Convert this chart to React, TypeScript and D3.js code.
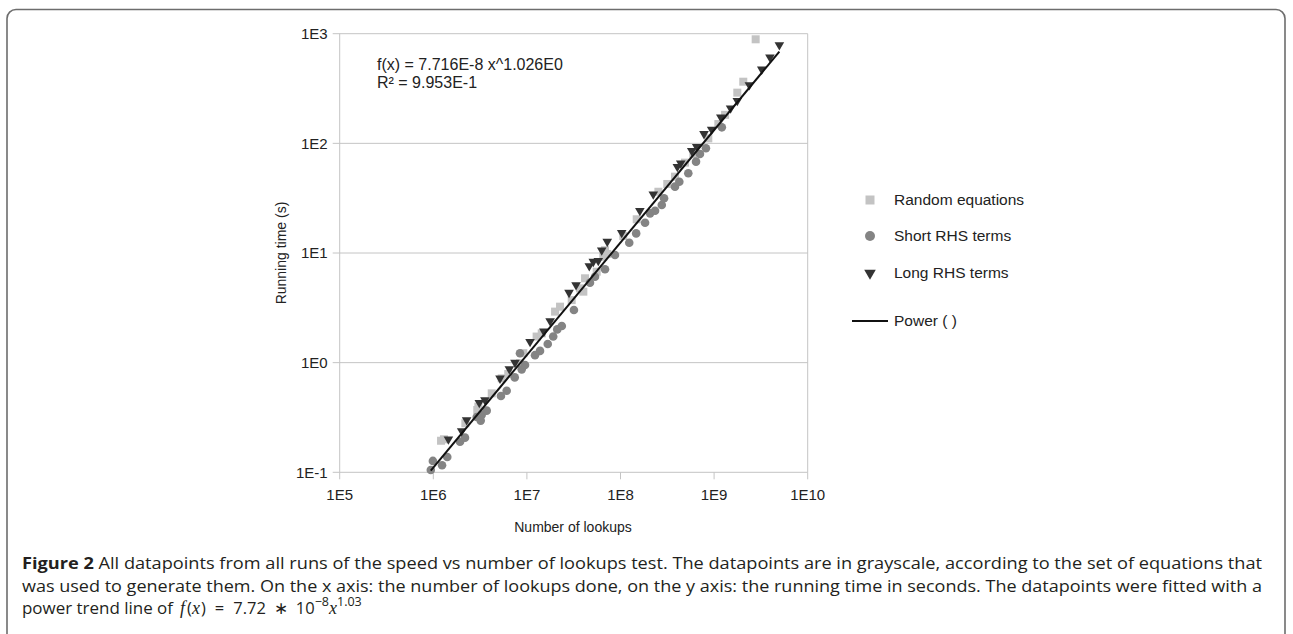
import React, { useRef, useEffect } from "react";
import * as d3 from "d3";

type Pt = [number, number]; // [number of lookups, running time in s]

const randomEquations: Pt[] = [
    [1.21e6, 0.194], [1.3e6, 0.2], [2.2e6, 0.28], [2.95e6, 0.37], [3.03e6, 0.397],
    [4.21e6, 0.525], [5.38e6, 0.719], [6.32e6, 0.788], [8.43e6, 0.986], [9.16e6, 1.22],
    [1.27e7, 1.73], [1.44e7, 1.85], [2.0e7, 2.92], [2.26e7, 3.24], [3.01e7, 3.72],
    [3.69e7, 4.76], [4.01e7, 4.44], [4.18e7, 5.88], [5.57e7, 6.75], [6.55e7, 9.25],
    [7.22e7, 9.8], [6.83e7, 10.6], [1.07e8, 14.3], [1.49e8, 20.3], [2.54e8, 36.2],
    [3.16e8, 42.6], [3.82e8, 49.7], [4.89e8, 66.7], [6.0e8, 80], [8.67e8, 111],
    [1.11e9, 150], [1.31e9, 182], [1.77e9, 290], [2.05e9, 365], [2.78e9, 889],
];

const shortRhsTerms: Pt[] = [
    [9.4e5, 0.105], [9.9e5, 0.127], [1.24e6, 0.116], [1.41e6, 0.138], [1.93e6, 0.19],
    [2.18e6, 0.207], [2.91e6, 0.319], [3.21e6, 0.296], [3.29e6, 0.334], [3.72e6, 0.365],
    [5.28e6, 0.497], [6.08e6, 0.555], [7.41e6, 0.734], [8.8e6, 0.869], [9.55e6, 0.952],
    [8.43e6, 1.22], [1.22e7, 1.17], [1.38e7, 1.28], [1.67e7, 1.48], [1.91e7, 1.73],
    [2.11e7, 2.01], [2.36e7, 2.16], [3.18e7, 3.02], [4.72e7, 5.36], [5.34e7, 6.08],
    [6.83e7, 7.1], [8.73e7, 9.6], [1.24e8, 12.4], [1.47e8, 15.1], [1.83e8, 18.9],
    [2.07e8, 23.0], [2.34e8, 24.3], [2.76e8, 27.4], [2.92e8, 31.6], [3.82e8, 40.3],
    [4.25e8, 44.7], [5.3e8, 53.3], [6.41e8, 68.1], [7.06e8, 80], [8.18e8, 90.2],
    [1.21e9, 140],
];

const longRhsTerms: Pt[] = [
    [1.45e6, 0.2], [2.01e6, 0.238], [2.27e6, 0.3], [3.1e6, 0.431], [3.56e6, 0.456],
    [5.16e6, 0.719], [6.49e6, 0.875], [7.46e6, 1.0], [1.08e7, 1.55], [1.52e7, 1.93],
    [1.77e7, 2.4], [2.82e7, 4.35], [3.35e7, 5.11], [4.64e7, 7.6], [5.12e7, 8.34],
    [5.79e7, 8.51], [6.3e7, 10.6], [7.22e7, 12.7], [1.03e8, 15.3], [1.61e8, 24.3],
    [2.24e8, 34.3], [4.05e8, 61.2], [4.4e8, 65.8], [5.77e8, 85.7], [6.52e8, 93.1],
    [7.8e8, 122], [9.42e8, 134], [1.18e9, 173], [1.5e9, 209], [1.77e9, 245],
    [2.38e9, 340], [3.23e9, 473], [3.95e9, 610], [4.98e9, 789],
];

const xTicks = [1e5, 1e6, 1e7, 1e8, 1e9, 1e10];
const xTickLabels = ["1E5", "1E6", "1E7", "1E8", "1E9", "1E10"];
const yTicks = [0.1, 1, 10, 100, 1000];
const yTickLabels = ["1E-1", "1E0", "1E1", "1E2", "1E3"];

const legendLabels = ["Random equations", "Short RHS terms", "Long RHS terms", "Power ( )"];

// power trend line f(x) = a * x^b
const fitA = 7.716e-8;
const fitB = 1.026;

const CHART_FONT = "'Liberation Sans', Arial, sans-serif";
const CAPTION_FONT = "'Open Sans', 'Noto Sans', sans-serif";
const MATH_FONT = "'Liberation Serif', serif";

const App: React.FC = () => {
    const ref = useRef<SVGSVGElement>(null);

    useEffect(() => {
        if (!ref.current) return;
        const svg = d3.select(ref.current);
        svg.selectAll("*").remove();

        const x = d3.scaleLog().domain([1e5, 1e10]).range([339.7, 807.7]);
        const y = d3.scaleLog().domain([0.1, 1000]).range([472.3, 33.7]);

        // outer figure frame
        svg.append("rect")
            .attr("x", 7).attr("y", 9.5)
            .attr("width", 1278).attr("height", 700)
            .attr("rx", 9)
            .attr("fill", "none")
            .attr("stroke", "#6d6d6d")
            .attr("stroke-width", 1.6);

        const grid = "#c4c4c4";

        // horizontal gridlines
        svg.append("g").selectAll("line")
            .data(yTicks)
            .enter().append("line")
            .attr("x1", x(1e5) - 7).attr("x2", x(1e10))
            .attr("y1", d => y(d)).attr("y2", d => y(d))
            .attr("stroke", grid).attr("stroke-width", 1);

        // axis lines / frame
        svg.append("line")
            .attr("x1", x(1e5)).attr("x2", x(1e5))
            .attr("y1", y(1000)).attr("y2", y(0.1))
            .attr("stroke", grid);
        svg.append("line")
            .attr("x1", x(1e10)).attr("x2", x(1e10))
            .attr("y1", y(1000)).attr("y2", y(0.1))
            .attr("stroke", grid);

        // x ticks
        svg.append("g").selectAll("line")
            .data(xTicks)
            .enter().append("line")
            .attr("x1", d => x(d)).attr("x2", d => x(d))
            .attr("y1", y(0.1)).attr("y2", y(0.1) + 7)
            .attr("stroke", grid);

        svg.append("g").selectAll("text")
            .data(xTicks)
            .enter().append("text")
            .attr("x", d => x(d))
            .attr("y", y(0.1) + 28)
            .attr("text-anchor", "middle")
            .style("font-family", CHART_FONT)
            .style("font-size", "15px")
            .attr("fill", "#222")
            .text((d, i) => xTickLabels[i]);

        svg.append("g").selectAll("text")
            .data(yTicks)
            .enter().append("text")
            .attr("x", x(1e5) - 12)
            .attr("y", d => y(d) + 5.3)
            .attr("text-anchor", "end")
            .style("font-family", CHART_FONT)
            .style("font-size", "15px")
            .attr("fill", "#222")
            .text((d, i) => yTickLabels[i]);

        // axis titles
        svg.append("text")
            .attr("x", 573).attr("y", 532)
            .attr("text-anchor", "middle")
            .style("font-family", CHART_FONT)
            .style("font-size", "14px")
            .attr("fill", "#222")
            .text("Number of lookups");

        svg.append("text")
            .attr("transform", "translate(286,253) rotate(-90)")
            .attr("text-anchor", "middle")
            .style("font-family", CHART_FONT)
            .style("font-size", "14px")
            .attr("fill", "#222")
            .text("Running time (s)");

        // series
        const sq = 8;
        svg.append("g").selectAll("rect")
            .data(randomEquations)
            .enter().append("rect")
            .attr("x", d => x(d[0]) - sq / 2)
            .attr("y", d => y(d[1]) - sq / 2)
            .attr("width", sq).attr("height", sq)
            .attr("fill", "#c3c3c3");

        svg.append("g").selectAll("circle")
            .data(shortRhsTerms)
            .enter().append("circle")
            .attr("cx", d => x(d[0]))
            .attr("cy", d => y(d[1]))
            .attr("r", 4.3)
            .attr("fill", "#848484");

        const tri = d3.symbol(d3.symbolTriangle, 40);
        svg.append("g").selectAll("path")
            .data(longRhsTerms)
            .enter().append("path")
            .attr("d", tri)
            .attr("transform", d => `translate(${x(d[0])},${y(d[1])}) rotate(180)`)
            .attr("fill", "#333");

        // trend line
        const all = [...randomEquations, ...shortRhsTerms, ...longRhsTerms];
        const [xMin, xMax] = d3.extent(all, d => d[0]) as [number, number];
        const line = d3.line<number>()
            .x(d => x(d))
            .y(d => y(fitA * Math.pow(d, fitB)));
        svg.append("path")
            .attr("d", line([xMin, xMax]))
            .attr("fill", "none")
            .attr("stroke", "#111")
            .attr("stroke-width", 2);

        // equation annotation
        const eq = svg.append("text")
            .style("font-family", CHART_FONT)
            .style("font-size", "16px")
            .attr("fill", "#222");
        eq.append("tspan").attr("x", 377).attr("y", 70)
            .text("f(x) = 7.716E-8 x^1.026E0");
        eq.append("tspan").attr("x", 377).attr("y", 88)
            .text("R² = 9.953E-1");

        // legend
        const lx = 870;
        const rows = [200, 236, 273, 321];
        svg.append("rect")
            .attr("x", lx - 4.5).attr("y", rows[0] - 4.5)
            .attr("width", 9).attr("height", 9)
            .attr("fill", "#c3c3c3");
        svg.append("circle")
            .attr("cx", lx).attr("cy", rows[1]).attr("r", 5)
            .attr("fill", "#848484");
        svg.append("path")
            .attr("d", d3.symbol(d3.symbolTriangle, 58)())
            .attr("transform", `translate(${lx},${rows[2]}) rotate(180)`)
            .attr("fill", "#333");
        svg.append("line")
            .attr("x1", 852).attr("x2", 888)
            .attr("y1", rows[3]).attr("y2", rows[3])
            .attr("stroke", "#111").attr("stroke-width", 2);

        svg.append("g").selectAll("text")
            .data(legendLabels)
            .enter().append("text")
            .attr("x", 894)
            .attr("y", (d, i) => rows[i] + 5.4)
            .style("font-family", CHART_FONT)
            .style("font-size", "15.5px")
            .attr("fill", "#222")
            .text(d => d);

        // caption
        const cap = svg.append("g")
            .style("font-family", CAPTION_FONT)
            .style("font-size", "16px")
            .attr("fill", "#231f20");

        const l1 = cap.append("text")
            .attr("x", 22).attr("y", 569)
            .attr("textLength", 1240)
            .attr("lengthAdjust", "spacingAndGlyphs");
        l1.append("tspan").style("font-weight", "bold").text("Figure 2");
        l1.append("tspan").text(" All datapoints from all runs of the speed vs number of lookups test. The datapoints are in grayscale, according to the set of equations that");

        cap.append("text")
            .attr("x", 22).attr("y", 592)
            .attr("textLength", 1240)
            .attr("lengthAdjust", "spacingAndGlyphs")
            .text("was used to generate them. On the x axis: the number of lookups done, on the y axis: the running time in seconds. The datapoints were fitted with a");

        const b3 = 614;
        cap.append("text")
            .attr("x", 22).attr("y", b3)
            .attr("textLength", 151)
            .attr("lengthAdjust", "spacingAndGlyphs")
            .text("power trend line of");

        // formula f(x) = 7.72 * 10^-8 x^1.03, set piece by piece
        const fx = cap.append("text")
            .attr("x", 180).attr("y", b3)
            .style("font-size", "18px");
        fx.append("tspan").style("font-family", MATH_FONT).style("font-style", "italic").text("f");
        fx.append("tspan").attr("dx", 2).style("font-size", "16.5px").text("(");
        fx.append("tspan").style("font-family", MATH_FONT).style("font-style", "italic").text("x");
        fx.append("tspan").attr("dx", 1).style("font-size", "16.5px").text(")");
        fx.append("tspan").attr("dx", 9).style("font-size", "16.5px").text("=");
        fx.append("tspan").attr("dx", 9).style("font-size", "16.5px").text("7.72");
        fx.append("tspan").attr("dx", 8).style("font-size", "16.5px").text("∗");
        fx.append("tspan").attr("dx", 8).style("font-size", "16.5px").text("10");
        fx.append("tspan").attr("dy", -8).style("font-size", "12.5px").text("−8");
        fx.append("tspan").attr("dy", 8).style("font-family", MATH_FONT).style("font-style", "italic").text("x");
        fx.append("tspan").attr("dy", -8).style("font-size", "12.5px").text("1.03");
    }, []);

    return (
        <div style={{ position: "fixed", left: 0, top: 0 }}>
            <svg ref={ref} width={1293} height={634} style={{ display: "block", background: "#fff" }} />
        </div>
    );
};

export default App;
